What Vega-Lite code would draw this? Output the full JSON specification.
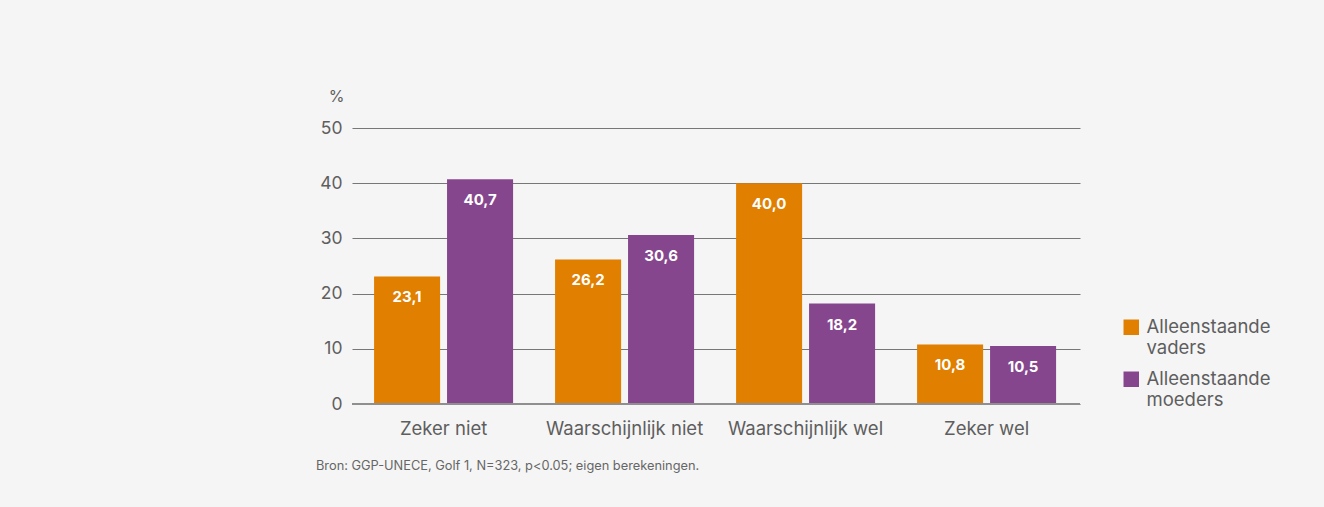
{
  "$schema": "https://vega.github.io/schema/vega-lite/v6.json",
  "width": 728,
  "height": 276,
  "autosize": {"type": "none"},
  "padding": {"left": 352, "top": 128, "right": 244, "bottom": 103},
  "background": "#f5f5f5",
  "config": {
    "view": {"stroke": null},
    "font": "Inter",
    "locale": {"number": {"decimal": ",", "thousands": ".", "grouping": [3], "currency": ["€", ""]}}
  },
  "title": {
    "text": "Bron: GGP-UNECE, Golf 1, N=323, p<0.05; eigen berekeningen.",
    "orient": "bottom",
    "anchor": "start",
    "frame": "group",
    "dx": -36,
    "offset": 22,
    "fontSize": 12.8,
    "fontWeight": "normal",
    "color": "#666666"
  },
  "data": {
    "values": [
      {"categorie": "Zeker niet", "groep": "Alleenstaande vaders", "pct": 23.1},
      {"categorie": "Zeker niet", "groep": "Alleenstaande moeders", "pct": 40.7},
      {"categorie": "Waarschijnlijk niet", "groep": "Alleenstaande vaders", "pct": 26.2},
      {"categorie": "Waarschijnlijk niet", "groep": "Alleenstaande moeders", "pct": 30.6},
      {"categorie": "Waarschijnlijk wel", "groep": "Alleenstaande vaders", "pct": 40.0},
      {"categorie": "Waarschijnlijk wel", "groep": "Alleenstaande moeders", "pct": 18.2},
      {"categorie": "Zeker wel", "groep": "Alleenstaande vaders", "pct": 10.8},
      {"categorie": "Zeker wel", "groep": "Alleenstaande moeders", "pct": 10.5}
    ]
  },
  "encoding": {
    "x": {
      "field": "categorie",
      "type": "nominal",
      "sort": ["Zeker niet", "Waarschijnlijk niet", "Waarschijnlijk wel", "Zeker wel"],
      "scale": {"paddingInner": 0.232, "paddingOuter": 0.127, "align": 0.48},
      "axis": {
        "title": null,
        "labelAngle": 0,
        "labelFontSize": 18.5,
        "labelColor": "#5e5e5e",
        "labelPadding": 15,
        "ticks": false,
        "domain": false,
        "grid": false
      }
    },
    "xOffset": {
      "field": "groep",
      "type": "nominal",
      "sort": ["Alleenstaande vaders", "Alleenstaande moeders"],
      "scale": {"paddingInner": 0.095}
    },
    "y": {
      "field": "pct",
      "type": "quantitative",
      "scale": {"domain": [0, 50]},
      "axis": {
        "title": "%",
        "titleAngle": 0,
        "titleX": -16,
        "titleY": -32,
        "titleAlign": "center",
        "titleBaseline": "middle",
        "titleFontSize": 16,
        "titleFontWeight": "normal",
        "titleColor": "#5e5e5e",
        "values": [0, 10, 20, 30, 40, 50],
        "labelFontSize": 17.5,
        "labelColor": "#5e5e5e",
        "labelPadding": 10,
        "ticks": false,
        "domain": false,
        "grid": true,
        "gridColor": "#777777",
        "gridWidth": 1
      }
    }
  },
  "layer": [
    {
      "mark": {"type": "bar"},
      "encoding": {
        "color": {
          "field": "groep",
          "type": "nominal",
          "sort": ["Alleenstaande vaders", "Alleenstaande moeders"],
          "scale": {"range": ["#e07f00", "#86468e"]},
          "legend": {
            "title": null,
            "orient": "none",
            "legendX": 770,
            "legendY": 190,
            "symbolType": "square",
            "symbolSize": 240,
            "symbolStrokeWidth": 0,
            "labelFontSize": 18.5,
            "labelColor": "#5e5e5e",
            "labelExpr": "split(datum.label, ' ')",
            "labelOffset": 6,
            "rowPadding": 12,
            "labelBaseline": "top",
            "labelLineHeight": 18,
            "encode": {"labels": {"update": {"dy": {"value": -9}}}}
          }
        }
      }
    },
    {
      "mark": {"type": "text", "color": "white", "fontWeight": "bold", "fontSize": 15, "baseline": "middle", "dy": 21},
      "encoding": {
        "text": {"field": "pct", "type": "quantitative", "format": ".1f"}
      }
    },
    {
      "data": {"values": [{"v": 0}]},
      "mark": {"type": "rule", "color": "#8f8f8f", "strokeWidth": 2},
      "encoding": {"y": {"field": "v", "type": "quantitative"}, "x": null, "xOffset": null}
    }
  ]
}
